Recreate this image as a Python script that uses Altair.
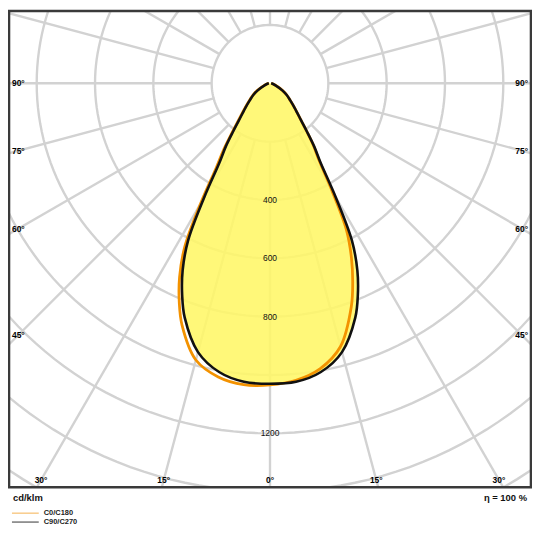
import altair as alt
import pandas as pd
import numpy as np

# ---------------- data (cd/klm) ----------------
GAMMA = [0, 5, 10, 15, 20, 22.5, 25, 27.5, 30, 32.5, 35, 37.5, 40, 45, 50, 55, 60, 70, 80, 90]
C0 = [1034, 1022, 993, 934, 815, 741, 661, 569, 425, 313, 259, 205, 166, 120, 90, 70, 50, 20, 9, 4]
C180 = [1034, 1037, 1022, 982, 882, 813, 734, 634, 475, 343, 276, 215, 172, 123, 93, 72, 52, 21, 9, 4]
C90 = [1030, 1027, 1005, 954, 855, 787, 709, 609, 450, 323, 264, 207, 166, 120, 90, 70, 50, 20, 9, 4]
C270 = [1030, 1027, 1005, 954, 855, 787, 709, 609, 450, 323, 264, 207, 166, 120, 90, 70, 50, 20, 9, 4]

RINGS = [200, 400, 600, 800, 1000, 1200, 1400, 1600, 1800]
RING_LABELS = [400, 600, 800, 1200]
SPOKES = list(range(0, 360, 15))
SIDE_ANGLES = [90, 75, 60, 45]
BOTTOM_ANGLES = [-30, -15, 0, 15, 30]

# ---------------- layout ----------------
W, H = 526, 480
XD = [-895, 895]
YD = [-1385, 248]
XS = alt.Scale(domain=XD, nice=False, zero=False)
YS = alt.Scale(domain=YD, nice=False, zero=False)
FONT = "Liberation Sans"
GRID = "#d2d2d2"


def curve_rows(name, left, right):
    rows = []
    o = 0
    for g, v in reversed(list(zip(GAMMA, left))):
        rows.append(dict(series=name, gamma=g, I=v, side=-1, order=o))
        o += 1
    for g, v in list(zip(GAMMA, right))[1:]:
        rows.append(dict(series=name, gamma=g, I=v, side=1, order=o))
        o += 1
    return rows


curves = pd.DataFrame(curve_rows("C0/C180", C180, C0) + curve_rows("C90/C270", C270, C90))


def polar(ch):
    return ch.transform_calculate(
        x="datum.side * datum.I * sin(datum.gamma * PI / 180)",
        y="-datum.I * cos(datum.gamma * PI / 180)",
    )


X = alt.X("x:Q", scale=XS, axis=None)
Y = alt.Y("y:Q", scale=YS, axis=None)

# rings
ring_df = pd.DataFrame([dict(ring=r, phi=p) for r in RINGS for p in range(0, 361, 2)])
rings = alt.Chart(ring_df).transform_calculate(
    x="datum.ring * sin(datum.phi * PI / 180)",
    y="-datum.ring * cos(datum.phi * PI / 180)",
).mark_line(clip=True, stroke=GRID, strokeWidth=2.4).encode(
    x=X, y=Y, detail="ring:N", order="phi:Q"
)

spoke_df = pd.DataFrame({"a": SPOKES})
spokes = alt.Chart(spoke_df).transform_calculate(
    x="200 * sin(datum.a * PI / 180)",
    y="-200 * cos(datum.a * PI / 180)",
    x2="2400 * sin(datum.a * PI / 180)",
    y2="-2400 * cos(datum.a * PI / 180)",
).mark_rule(clip=True, stroke=GRID, strokeWidth=2.4).encode(
    x=X, y=Y, x2="x2:Q", y2="y2:Q"
)

base = polar(alt.Chart(curves))
fill = base.transform_filter("datum.series == 'C90/C270'").mark_line(
    fill="#fff766", fillOpacity=0.88, strokeOpacity=0, interpolate="catmull-rom"
).encode(x=X, y=Y, order="order:Q")
orange = base.transform_filter("datum.series == 'C0/C180'").mark_line(
    stroke="#f39200", strokeWidth=2.8, interpolate="catmull-rom"
).encode(x=X, y=Y, order="order:Q")
black = base.transform_filter("datum.series == 'C90/C270'").mark_line(
    stroke="#111111", strokeWidth=2.6, interpolate="catmull-rom"
).encode(x=X, y=Y, order="order:Q")

# intensity labels
rl = pd.DataFrame({"x": [0] * len(RING_LABELS), "y": [-v for v in RING_LABELS], "t": [str(v) for v in RING_LABELS]})
ring_text = alt.Chart(rl).mark_text(font=FONT, fontSize=8.5, color="#111", baseline="middle", align="center").encode(
    x=X, y=Y, text="t:N"
)

# angle labels
side_rows = []
for a in SIDE_ANGLES:
    yv = 0.0 if a == 90 else -863 / np.tan(np.radians(a))
    side_rows.append(dict(x=-863, y=yv, t=f"{a}°"))
    side_rows.append(dict(x=863, y=yv, t=f"{a}°"))
for a in BOTTOM_ANGLES:
    side_rows.append(dict(x=1360 * np.tan(np.radians(a)), y=-1360, t=f"{abs(a)}°"))
ang_df = pd.DataFrame(side_rows)
ang_text = alt.Chart(ang_df).mark_text(font=FONT, fontSize=8.5, fontWeight="bold", color="#000", baseline="middle", align="center").encode(
    x=X, y=Y, text="t:N"
)

one = pd.DataFrame({"k": [0]})
frame = alt.Chart(one).mark_rect(fillOpacity=0, stroke="#3a3a3a", strokeWidth=2.6).encode(
    x=alt.value(0), x2=alt.value(W), y=alt.value(0), y2=alt.value(H)
)

unit_txt = alt.Chart(one).mark_text(font=FONT, fontSize=9.5, fontWeight="bold", color="#111", align="left", baseline="middle", text="cd/klm").encode(
    x=alt.value(4), y=alt.value(491)
)
eta_txt = alt.Chart(one).mark_text(font=FONT, fontSize=9.5, fontWeight="bold", color="#111", align="right", baseline="middle", text="η = 100 %").encode(
    x=alt.value(522), y=alt.value(491)
)
leg1_line = alt.Chart(one).mark_rule(stroke="#f5b050", strokeWidth=1).encode(
    x=alt.value(3), x2=alt.value(30), y=alt.value(506)
)
leg2_line = alt.Chart(one).mark_rule(stroke="#333333", strokeWidth=1).encode(
    x=alt.value(3), x2=alt.value(30), y=alt.value(515)
)
leg1_txt = alt.Chart(one).mark_text(font=FONT, fontSize=7.5, fontWeight="bold", color="#222", align="left", baseline="middle", text="C0/C180").encode(
    x=alt.value(35), y=alt.value(506)
)
leg2_txt = alt.Chart(one).mark_text(font=FONT, fontSize=7.5, fontWeight="bold", color="#222", align="left", baseline="middle", text="C90/C270").encode(
    x=alt.value(35), y=alt.value(515)
)

chart = alt.layer(
    rings, spokes, fill, orange, black, ring_text, ang_text, frame,
    unit_txt, eta_txt, leg1_line, leg2_line, leg1_txt, leg2_txt,
).properties(
    width=W, height=H,
    padding={"left": 1, "top": 1, "right": 1, "bottom": 38},
    autosize=alt.AutoSizeParams(type="none"),
    background="white",
).configure_view(strokeWidth=0)

chart.save("out.html", embed_options={"renderer": "svg", "actions": False})
